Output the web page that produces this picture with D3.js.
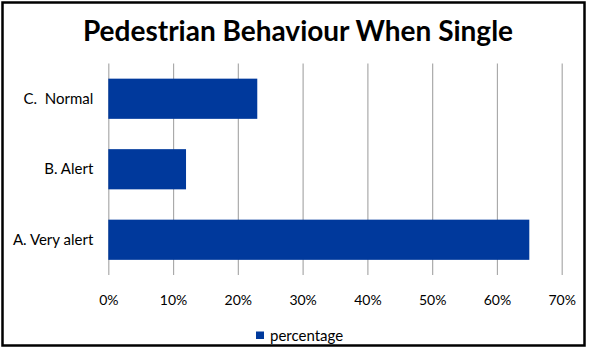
<!DOCTYPE html>
<html><head><meta charset="utf-8">
<script src="https://cdn.jsdelivr.net/npm/d3@7"></script>
<style>body{margin:0;background:#fff}svg{display:block}</style>
</head><body>
<svg id="c" width="589" height="349"></svg>
<script>
const categories = ["C.  Normal", "B. Alert", "A. Very alert"];
const values = [23, 12, 65];
const ticks = [0, 10, 20, 30, 40, 50, 60, 70];
const seriesName = "percentage";
const title = "Pedestrian Behaviour When Single";

const svg = d3.select("#c");
const font = "Lato, 'Open Sans', sans-serif";
const blue = "#00399c";

svg.append("rect").attr("x", 2.5).attr("y", 2.5).attr("width", 582).attr("height", 343)
  .attr("fill", "#fff").attr("stroke", "#000").attr("stroke-width", 2.5);

const x = d3.scaleLinear().domain([0, 70]).range([108.3, 561.7]);
const y = d3.scaleBand().domain(categories).range([63.5, 275]).paddingInner(0.43).paddingOuter(0.215);

svg.append("text").attr("x", 298).attr("y", 41).attr("text-anchor", "middle")
  .attr("font-family", font).attr("font-weight", "bold").attr("font-size", 28)
  .attr("fill", "#000").text(title);

const grid = svg.append("g").attr("transform", "translate(0,275)")
  .call(d3.axisBottom(x).tickValues(ticks).tickSize(-211.5).tickFormat(d => d + "%"));
grid.select(".domain").remove();
grid.selectAll(".tick line").attr("stroke", "#aaaaaa").attr("stroke-width", 1.2);
grid.selectAll(".tick text").attr("font-family", font).attr("font-size", 14)
  .attr("fill", "#000").attr("y", 25).attr("dy", "0.35em");

svg.append("g").selectAll("rect").data(values).join("rect")
  .attr("x", x(0)).attr("y", (d, i) => y(categories[i]))
  .attr("width", d => x(d) - x(0)).attr("height", y.bandwidth()).attr("fill", blue);

const yAxis = svg.append("g").attr("transform", "translate(108.3,0)")
  .call(d3.axisLeft(y).tickSize(0).tickPadding(15));
yAxis.select(".domain").remove();
yAxis.selectAll(".tick text").attr("font-family", font).attr("font-size", 15).attr("fill", "#000")
  .style("white-space", "pre").attr("xml:space", "preserve");

const lg = svg.append("g").attr("transform", "translate(256,331.5)");
lg.append("rect").attr("width", 8).attr("height", 7.5).attr("fill", blue);
lg.append("text").attr("x", 14).attr("y", 3.75).attr("dy", "0.35em")
  .attr("font-family", font).attr("font-size", 15).attr("fill", "#000").text(seriesName);
</script>
</body></html>
